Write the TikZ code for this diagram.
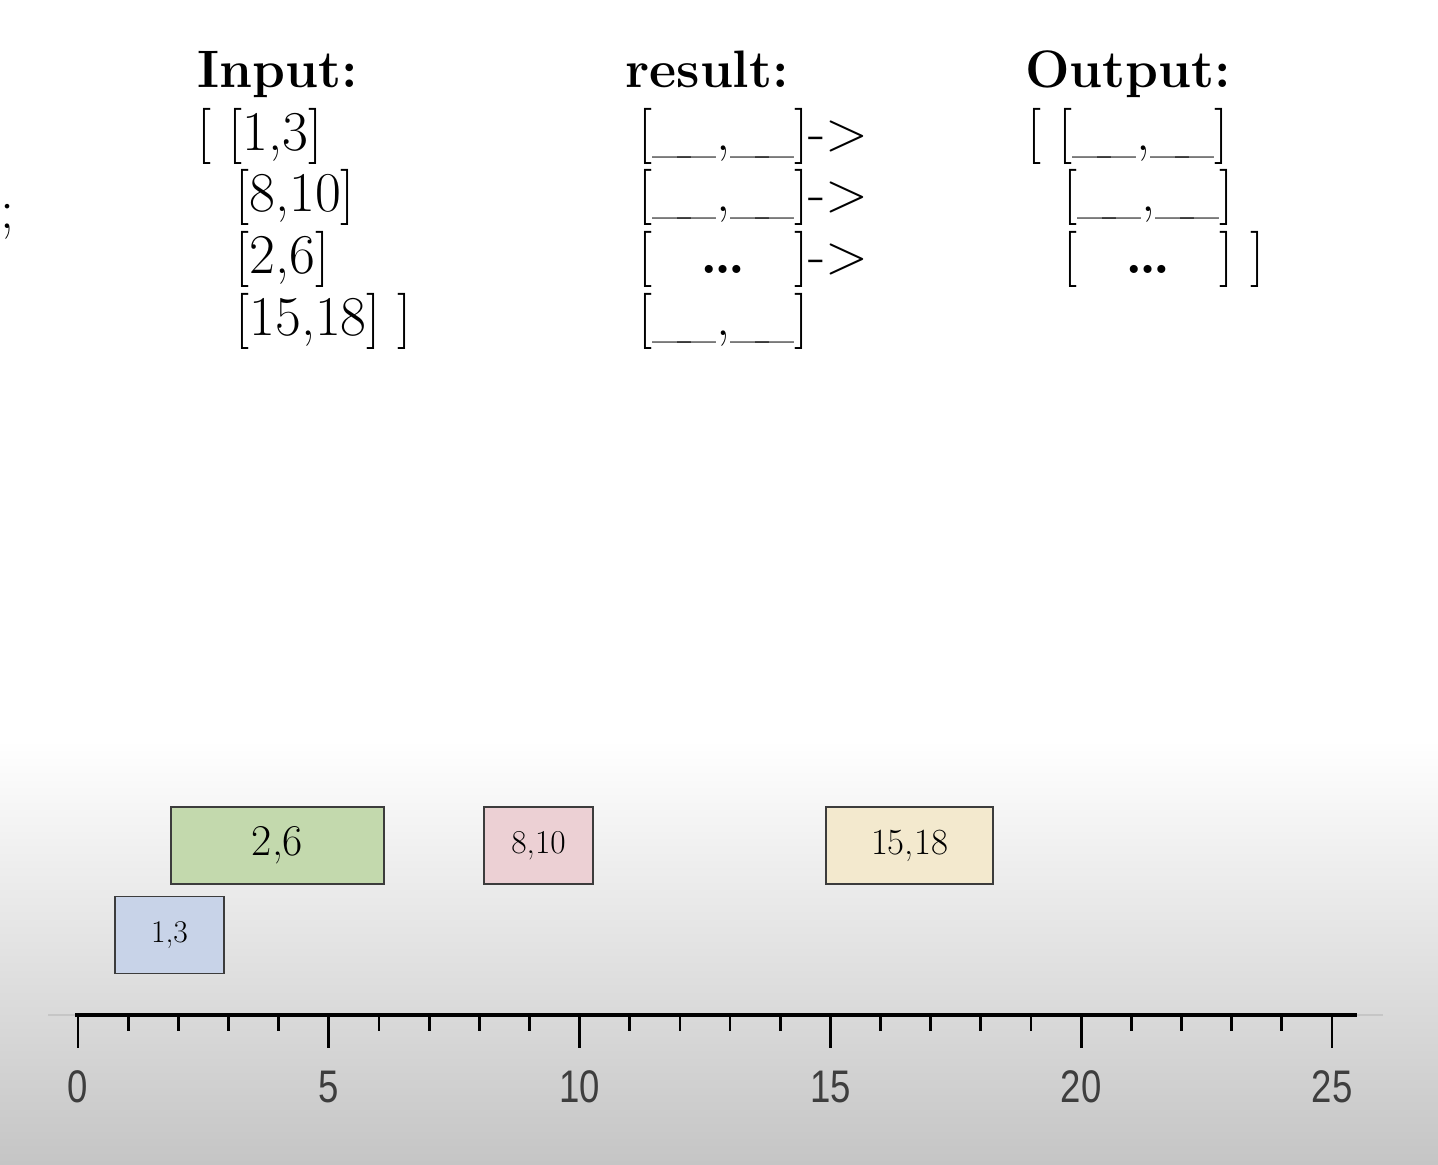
\documentclass[tikz,border=0pt]{standalone}
\usepackage{fontspec}
\newfontfamily\axisfont{Liberation Sans}
\usepackage{calc}
\usetikzlibrary{positioning}
\definecolor{boxblue}{HTML}{C8D3E8}
\definecolor{boxgreen}{HTML}{C3D9AD}
\definecolor{boxpink}{HTML}{ECD0D4}
\definecolor{boxsand}{HTML}{F3E9CE}
\definecolor{floorgray}{HTML}{C5C5C5}
\definecolor{ticklabel}{HTML}{3E3E3E}
\definecolor{boxline}{HTML}{3C3C3C}
\newcommand{\gapslot}{\_\kern-0.25em\_,\_\kern-0.25em\_}
\newcommand{\dotslot}{\makebox[\widthof{\gapslot}]{\textbf{\ldots}}}

\begin{document}
\begin{tikzpicture}[x=0.02cm, y=-0.02cm,
  textrow/.style={anchor=base west, inner sep=0pt, font=\fontsize{32}{38}\selectfont},
  headrow/.style={textrow, font=\fontsize{30}{36}\selectfont\bfseries},
  ivbox/.style={draw=boxline, line width=1.1pt, minimum height=1.54cm, inner sep=0pt},
  tick/.style={line width=1.6pt},
  axislabel/.style={font=\axisfont\fontsize{26}{30}\selectfont, text=ticklabel, xscale=0.8, inner sep=0pt}]
  \useasboundingbox (0,0) rectangle (1438,1164);
  % background
  \fill[white] (0,0) rectangle (1438,740);
  \shade[top color=white, bottom color=floorgray] (0,740) rectangle (1438,1164);

  % input / result / output columns
  \node[textrow] (semi) at (0,228) {;};
  \node[headrow] (inhead) at (197,87) {Input:};
  \node[textrow] (in1) at (197,150) {[ [1,3]};
  \node[textrow] (in2) at (235,211) {[8,10]};
  \node[textrow] (in3) at (235,273) {[2,6]};
  \node[textrow] (in4) at (235,335) {[15,18] ]};

  \node[headrow] (reshead) at (625,87) {result:};
  \node[textrow] (res1) at (638,150) {[\gapslot]->};
  \node[textrow] (res2) at (638,211) {[\gapslot]->};
  \node[textrow] (res3) at (638,273) {[\dotslot]->};
  \node[textrow] (res4) at (638,335) {[\gapslot]};

  \node[headrow] (outhead) at (1025,87) {Output:};
  \node[textrow] (out1) at (1027,150) {[ [\gapslot]};
  \node[textrow] (out2) at (1063,211) {[\gapslot]};
  \node[textrow] (out3) at (1063,273) {[\dotslot] ]};

  % intervals
  \node[ivbox, fill=boxblue, minimum width=2.18cm, font=\fontsize{18}{21}\selectfont] (iv13) at (169.5,935) {1,3};
  \node[ivbox, fill=boxgreen, minimum width=4.26cm, font=\fontsize{25}{29}\selectfont] (iv26) at (277.5,845.5) {2,6};
  \node[ivbox, fill=boxpink, minimum width=2.18cm, font=\fontsize{19}{22}\selectfont] (iv810) at (538.5,845.5) {8,10};
  \node[ivbox, fill=boxsand, minimum width=3.34cm, font=\fontsize{21}{24}\selectfont] (iv1518) at (909.5,845.5) {15,18};

  % number line
  \draw[gray!45, line width=0.8pt] (48,1015) -- (1383,1015);
  \draw[line width=2.2pt] (75,1015) -- (1357,1015);
  \foreach \t in {0,...,25}
    \draw[tick] ({78+50.16*\t},1015) -- ++(0,16);
  \foreach \t in {0,5,...,25}
  {
    \draw[tick] ({78+50.16*\t},1015) -- ++(0,33);
    \node[axislabel] (lab\t) at ({78+50.16*\t},1087) {\t};
  }
\end{tikzpicture}
\end{document}
